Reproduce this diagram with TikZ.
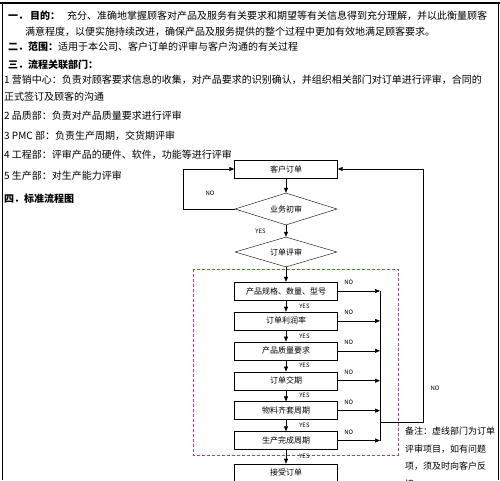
\documentclass[tikz,border=0pt]{standalone}
\usepackage{fontspec}
\setmainfont{Noto Sans CJK SC}
\usetikzlibrary{arrows.meta,positioning,shapes.geometric}
\definecolor{dashpurple}{RGB}{175,55,175}

\begin{document}
\begin{tikzpicture}[
  x=1pt, y=-1pt,
  node distance=11.5pt,
  txt/.style={anchor=west, inner sep=0, font=\fontsize{10}{12}\selectfont},
  box/.style={draw, minimum width=103pt, minimum height=18pt, inner sep=0, font=\fontsize{8}{10}\selectfont},
  decision/.style={draw, diamond, aspect=3, minimum width=102pt, minimum height=32pt, inner sep=0, font=\fontsize{8}{10}\selectfont},
  lbl/.style={inner sep=0, font=\fontsize{6}{7}\selectfont},
  arrow/.style={-{Triangle[length=5pt,width=4pt]}, semithick}
]
\useasboundingbox (0,0) rectangle (500,480);

% page frame
\draw[line width=1.5pt] (0,3) -- (500,3);
\draw[line width=1pt] (2,3) -- (2,480);
\draw[line width=1pt] (498,3) -- (498,480);

% text part
\node[txt] (aim) at (8,16) {\textbf{一．}\hspace{2pt}\textbf{目的：}\hspace{7pt}充分、准确地掌握顾客对产品及服务有关要求和期望等有关信息得到充分理解，并以此衡量顾客};
\node[txt] (aim2) at (25,32) {满意程度，以便实施持续改进，确保产品及服务提供的整个过程中更加有效地满足顾客要求。};
\node[txt] (scope) at (8,47) {\textbf{二．范围：}适用于本公司、客户订单的评审与客户沟通的有关过程};
\node[txt] (dept) at (8,65) {\textbf{三．流程关联部门：}};
\node[txt] (d1) at (4,80) {1 营销中心：负责对顾客要求信息的收集，对产品要求的识别确认，并组织相关部门对订单进行评审，合同的};
\node[txt] (d1b) at (4,97) {正式签订及顾客的沟通};
\node[txt] (d2) at (4,116) {2 品质部：负责对产品质量要求进行评审};
\node[txt] (d3) at (4,136) {3 PMC 部：负责生产周期，交货期评审};
\node[txt] (d4) at (4,155) {4 工程部：评审产品的硬件、软件，功能等进行评审};
\node[txt] (d5) at (4,176) {5 生产部：对生产能力评审};
\node[txt] (chart) at (4,199) {\textbf{四．标准流程图}};

% flow chart
\node[box] (order) at (286,169) {客户订单};
\node[decision] (check) at (286,209) {业务初审};
\node[decision, minimum height=30pt] (review) at (286,252) {订单评审};
\node[box] (spec) at (286,291) {产品规格、数量、型号};
\node[box, below=of spec] (profit) {订单利润率};
\node[box, below=of profit] (quality) {产品质量要求};
\node[box, below=of quality] (delivery) {订单交期};
\node[box, below=of delivery] (material) {物料齐套周期};
\node[box, below=of material] (finish) {生产完成周期};
\node[box, below=14pt of finish] (accept) {接受订单};

\draw[dashpurple, semithick, dash pattern=on 3pt off 2pt] (193,269) rectangle (398,455);

\draw[arrow] (order) -- (check);
\draw[arrow] (check.west) -- ++(-52,0) |- (order.west);
\node[lbl] (no1) at (210,193) {NO};
\draw[arrow] (check) -- node[lbl, left=20pt] {YES} (review);
\draw[arrow] (review) -- (spec);
\foreach \a/\b in {spec/profit, profit/quality, quality/delivery, delivery/material, material/finish, finish/accept}
  \draw[arrow] (\a) -- node[lbl, right=13pt] {YES} (\b);

\coordinate (bus) at (380,0);
\foreach \n in {spec, profit, quality, delivery, material, finish}
  \draw[arrow] (\n.east) -- node[lbl, pos=0.26, above=6pt] {NO} (\n.east -| bus);
\draw[semithick] (spec.east -| bus) -- (finish.east -| bus);
\coordinate (join) at (380,422);
\coordinate (back) at (423,422);
\draw[arrow] (join) -- (back) |- (order.east);
\node[lbl] (no2) at (435,388) {NO};

\node[anchor=north west, inner sep=0, align=left, font=\fontsize{9}{17.5}\selectfont] (note) at (405,427) {备注：虚线部门为订单\\评审项目，如有问题\\项，须及时向客户反\\馈};
\end{tikzpicture}
\end{document}
